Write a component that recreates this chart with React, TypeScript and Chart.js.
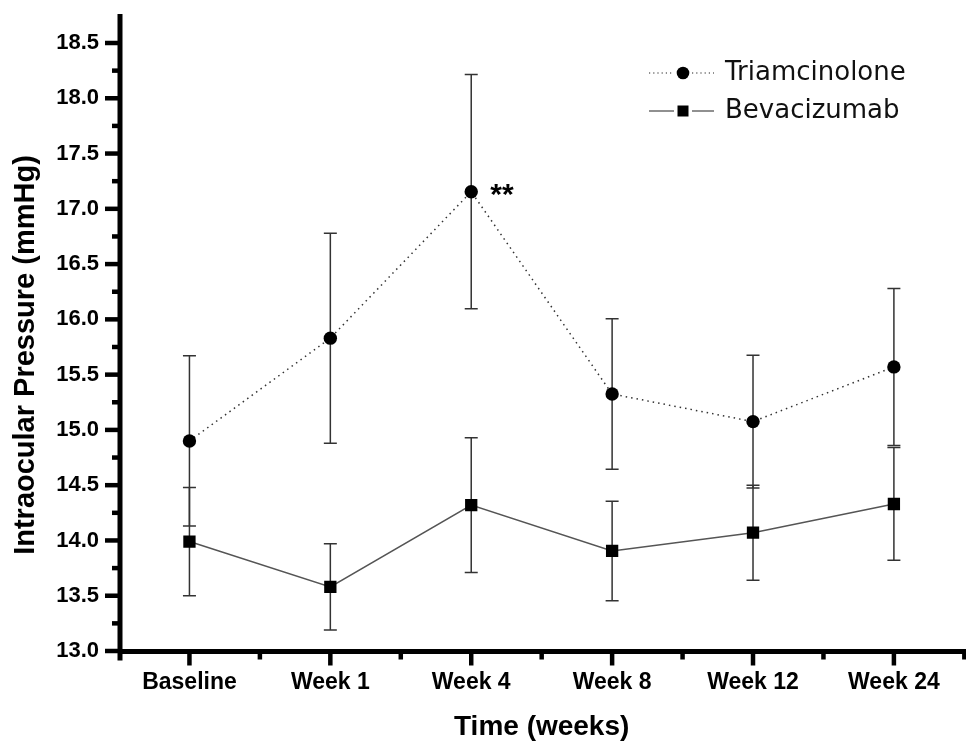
import React, { useEffect, useRef } from 'react';
import { Chart, registerables } from 'chart.js';

Chart.register(...registerables);

const categories = ['Baseline', 'Week 1', 'Week 4', 'Week 8', 'Week 12', 'Week 24'];
const triamMean = [14.9, 15.83, 17.155, 15.325, 15.075, 15.57];
const triamSD = [0.77, 0.95, 1.06, 0.68, 0.6, 0.71];
const bevaMean = [13.99, 13.58, 14.32, 13.905, 14.07, 14.33];
const bevaSD = [0.49, 0.39, 0.61, 0.45, 0.43, 0.51];
const yTicks = [13.0, 13.5, 14.0, 14.5, 15.0, 15.5, 16.0, 16.5, 17.0, 17.5, 18.0, 18.5];
const seriesNames = ['Triamcinolone', 'Bevacizumab'];
const xTitle = 'Time (weeks)';
const yTitle = 'Intraocular Pressure (mmHg)';
const significance = '**';
const significanceIndex = 2;

const BOLD = '"Liberation Sans", Arial, sans-serif';
const LEGEND_FONT = '"DejaVu Sans", sans-serif';

const errorBarPlugin = {
  id: 'errorBars',
  beforeDatasetsDraw(chart: any) {
    const ctx = chart.ctx;
    const y = chart.scales.y;
    const sds = [triamSD, bevaSD];
    const means = [triamMean, bevaMean];
    ctx.save();
    ctx.strokeStyle = '#333';
    ctx.lineWidth = 1.5;
    chart.data.datasets.forEach((_ds: any, di: number) => {
      const meta = chart.getDatasetMeta(di);
      meta.data.forEach((pt: any, i: number) => {
        const x = pt.x;
        const top = y.getPixelForValue(means[di][i] + sds[di][i]);
        const bot = y.getPixelForValue(means[di][i] - sds[di][i]);
        ctx.beginPath();
        ctx.moveTo(x, top);
        ctx.lineTo(x, bot);
        ctx.moveTo(x - 6.5, top);
        ctx.lineTo(x + 6.5, top);
        ctx.moveTo(x - 6.5, bot);
        ctx.lineTo(x + 6.5, bot);
        ctx.stroke();
      });
    });
    ctx.restore();
  },
};

const decorPlugin = {
  id: 'decor',
  afterDraw(chart: any) {
    const ctx = chart.ctx;
    const xs = chart.scales.x;
    const ys = chart.scales.y;
    const area = chart.chartArea;
    const ax = area.left + 1;
    const ay = area.bottom + 0.5;
    ctx.save();
    ctx.strokeStyle = '#000';
    ctx.lineCap = 'butt';
    // axis lines
    ctx.lineWidth = 5;
    ctx.beginPath();
    ctx.moveTo(ax, area.top - 29);
    ctx.lineTo(ax, ay + 9);
    ctx.moveTo(ax, ay);
    ctx.lineTo(chart.width, ay);
    ctx.stroke();
    // y ticks
    ctx.lineWidth = 4.5;
    yTicks.forEach((v, i) => {
      const py = ys.getPixelForValue(v);
      ctx.beginPath();
      ctx.moveTo(ax - 15, py);
      ctx.lineTo(ax, py);
      ctx.stroke();
      if (i < yTicks.length - 1) {
        const pm = ys.getPixelForValue((v + yTicks[i + 1]) / 2);
        ctx.beginPath();
        ctx.moveTo(ax - 8, pm);
        ctx.lineTo(ax, pm);
        ctx.stroke();
      }
    });
    // x ticks
    categories.forEach((_c, i) => {
      const px = xs.getPixelForValue(i);
      ctx.beginPath();
      ctx.moveTo(px, ay);
      ctx.lineTo(px, ay + 14);
      ctx.stroke();
      const pm = xs.getPixelForValue(i + 0.5);
      if (pm < chart.width) {
        ctx.beginPath();
        ctx.moveTo(pm, ay);
        ctx.lineTo(pm, ay + 8);
        ctx.stroke();
      }
    });
    // titles
    ctx.fillStyle = '#000';
    ctx.font = `bold 28px ${BOLD}`;
    ctx.textAlign = 'center';
    ctx.textBaseline = 'alphabetic';
    ctx.fillText(xTitle, (xs.getPixelForValue(-0.5) + xs.getPixelForValue(5.5)) / 2, 735);
    ctx.save();
    const ty = (ys.getPixelForValue(13) + ys.getPixelForValue(18.5)) / 2 + 8;
    ctx.translate(34, ty);
    ctx.rotate(-Math.PI / 2);
    ctx.font = `bold 29px ${BOLD}`;
    ctx.fillText(yTitle, 0, 0);
    ctx.restore();
    // significance mark
    const sp = chart.getDatasetMeta(0).data[significanceIndex];
    ctx.font = `bold 30px ${BOLD}`;
    ctx.textAlign = 'left';
    ctx.fillText(significance, sp.x + 19, sp.y + 12);
    // legend
    const rows = [73, 111];
    chart.data.datasets.forEach((ds: any, di: number) => {
      const ly = rows[di];
      ctx.save();
      ctx.strokeStyle = '#222';
      ctx.lineWidth = 1.2;
      ctx.setLineDash(di === 0 ? [1.2, 3] : []);
      ctx.beginPath();
      ctx.moveTo(649, ly);
      ctx.lineTo(674, ly);
      ctx.moveTo(692, ly);
      ctx.lineTo(714, ly);
      ctx.stroke();
      ctx.restore();
      ctx.fillStyle = '#000';
      ctx.beginPath();
      if (di === 0) {
        ctx.arc(683, ly, 6.3, 0, Math.PI * 2);
      } else {
        ctx.rect(683 - 5.5, ly - 5.5, 11, 11);
      }
      ctx.fill();
      ctx.font = `26px ${LEGEND_FONT}`;
      ctx.textAlign = 'left';
      ctx.textBaseline = 'middle';
      ctx.fillStyle = '#111';
      ctx.fillText(ds.label, 725, ly);
    });
    ctx.restore();
  },
};

export default function App() {
  const ref = useRef<HTMLCanvasElement | null>(null);
  useEffect(() => {
    if (!ref.current) return;
    const chart = new Chart(ref.current, {
      type: 'line',
      data: {
        datasets: [
          {
            label: seriesNames[0],
            data: categories.map((_c, i) => ({ x: i, y: triamMean[i] })),
            borderColor: '#333',
            borderWidth: 1.5,
            borderDash: [1.5, 4],
            pointStyle: 'circle',
            pointRadius: 6.7,
            pointBackgroundColor: '#000',
            pointBorderWidth: 0,
            fill: false,
            tension: 0,
          },
          {
            label: seriesNames[1],
            data: categories.map((_c, i) => ({ x: i, y: bevaMean[i] })),
            borderColor: '#555',
            borderWidth: 1.5,
            pointStyle: 'rect',
            pointRadius: 8.7,
            pointBackgroundColor: '#000',
            pointBorderWidth: 0,
            fill: false,
            tension: 0,
          },
        ],
      },
      options: {
        responsive: false,
        animation: false,
        devicePixelRatio: 1,
        layout: { padding: { top: 43, right: 0, left: 0, bottom: 0 } },
        plugins: { legend: { display: false }, tooltip: { enabled: false } },
        scales: {
          x: {
            type: 'linear',
            min: -0.5,
            max: 5.45,
            grid: { display: false, drawTicks: false },
            border: { display: false },
            afterFit: (s: any) => { s.height = 96; },
            afterBuildTicks: (s: any) => { s.ticks = categories.map((_c, i) => ({ value: i })); },
            ticks: {
              padding: 18,
              autoSkip: false,
              maxRotation: 0,
              color: '#000',
              font: { family: BOLD, size: 23, weight: 'bold' },
              callback: (v: any) => categories[Math.round(Number(v))] ?? '',
            },
          },
          y: {
            type: 'linear',
            min: 13,
            max: 18.5,
            grid: { display: false, drawTicks: false },
            border: { display: false },
            afterFit: (s: any) => { s.width = 119; },
            afterBuildTicks: (s: any) => { s.ticks = yTicks.map((v) => ({ value: v })); },
            ticks: {
              padding: 20,
              color: '#000',
              font: { family: BOLD, size: 22, weight: 'bold' },
              callback: (v: any) => Number(v).toFixed(1),
            },
          },
        },
      },
      plugins: [errorBarPlugin, decorPlugin],
    } as any);
    return () => chart.destroy();
  }, []);
  return (
    <div style={{ position: 'absolute', left: 0, top: 0, width: 966, height: 747, background: '#fff' }}>
      <canvas ref={ref} width={966} height={747} style={{ display: 'block' }} />
    </div>
  );
}
